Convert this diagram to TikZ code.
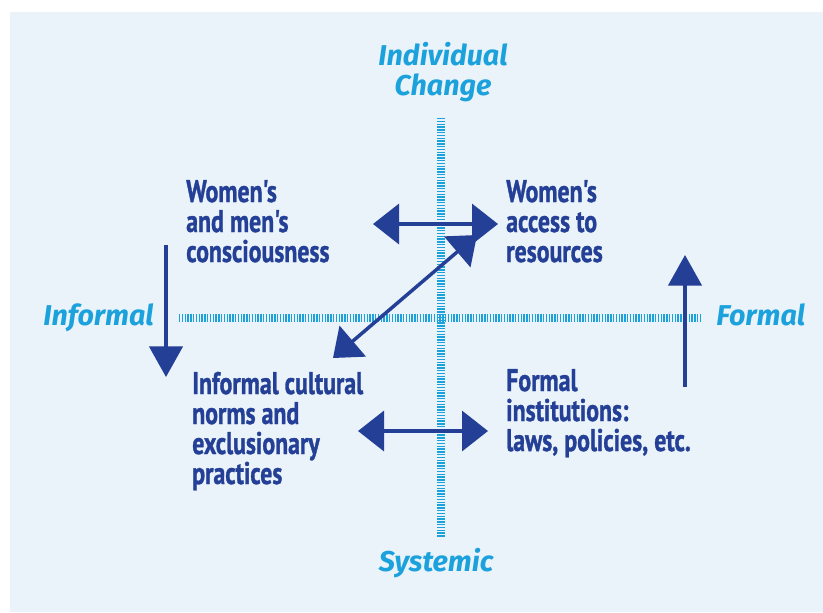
\documentclass[tikz,border=0pt]{standalone}
\usepackage{fontspec}
\usepackage{xcolor}
\usetikzlibrary{arrows.meta}

\newfontfamily\bodyfont[FakeStretch=0.76, FakeBold=1]{PT Sans}
\newfontfamily\headfont{Fira Sans}

\definecolor{navy}{HTML}{233F96}
\definecolor{sky}{HTML}{1BA1DB}
\definecolor{paper}{HTML}{EAF2FA}

\tikzset{
  quadtext/.style={align=left, anchor=base west, inner sep=0pt, text=navy,
    font=\bodyfont\bfseries\fontsize{23.5}{22.5}\selectfont},
  axislabel/.style={inner sep=0pt, anchor=base, text=sky,
    font=\headfont\bfseries\itshape\fontsize{21.5}{22.5}\selectfont},
  axisline/.style={draw=sky, line width=6pt, dash pattern=on 1.05pt off 1.05pt},
  twoway/.style={draw=navy, line width=2.6pt,
    {Triangle[length=19.5pt,width=30pt]}-{Triangle[length=19.5pt,width=30pt]}},
  oneway/.style={draw=navy, line width=2.6pt,
    -{Triangle[length=23pt,width=25pt]}},
}

\begin{document}
\begin{tikzpicture}[x=0.75pt, y=-0.75pt]
  \useasboundingbox (0,0) rectangle (823,612);
  \fill[paper] (10,12) rectangle (823,612);

  % the two axes
  \coordinate (north) at (441,118);
  \coordinate (south) at (441,537);
  \coordinate (west) at (179,318);
  \coordinate (east) at (702,318);
  \draw[axisline] (north) -- (south);
  \draw[axisline] (west) -- (east);

  % axis labels (base = last line)
  \node[axislabel, align=center] (individual) at (443,95) {Individual\\Change};
  \node[axislabel] (systemic) at (436,571) {Systemic};
  \node[axislabel, anchor=base west] (informal) at (43,325) {Informal};
  \node[axislabel, anchor=base west] (formal) at (716,325) {Formal};

  % the four quadrants
  \node[quadtext] (consc) at (186,262) {Women's\\and men's\\consciousness};
  \node[quadtext] (access) at (506,262) {Women's\\access to\\resources};
  \node[quadtext] (norms) at (192,484) {Informal cultural\\norms and\\exclusionary\\practices};
  \node[quadtext] (inst) at (506,451) {Formal\\institutions:\\laws, policies, etc.};

  % arrows between quadrants
  \coordinate (tl) at (373,224);
  \coordinate (tr) at (498,224);
  \coordinate (bl) at (358,431);
  \coordinate (br) at (488,431);
  \coordinate (dl) at (333,358);
  \coordinate (dr) at (477,235);
  \draw[twoway] (tl) -- (tr);
  \draw[twoway] (bl) -- (br);
  \draw[twoway] (dl) -- (dr);

  \coordinate (downtop) at (166,245);
  \coordinate (downtip) at (166,377);
  \coordinate (upfoot) at (685,387);
  \coordinate (uptip) at (685,255);
  \draw[oneway] (downtop) -- (downtip);
  \draw[oneway] (upfoot) -- (uptip);
\end{tikzpicture}
\end{document}
